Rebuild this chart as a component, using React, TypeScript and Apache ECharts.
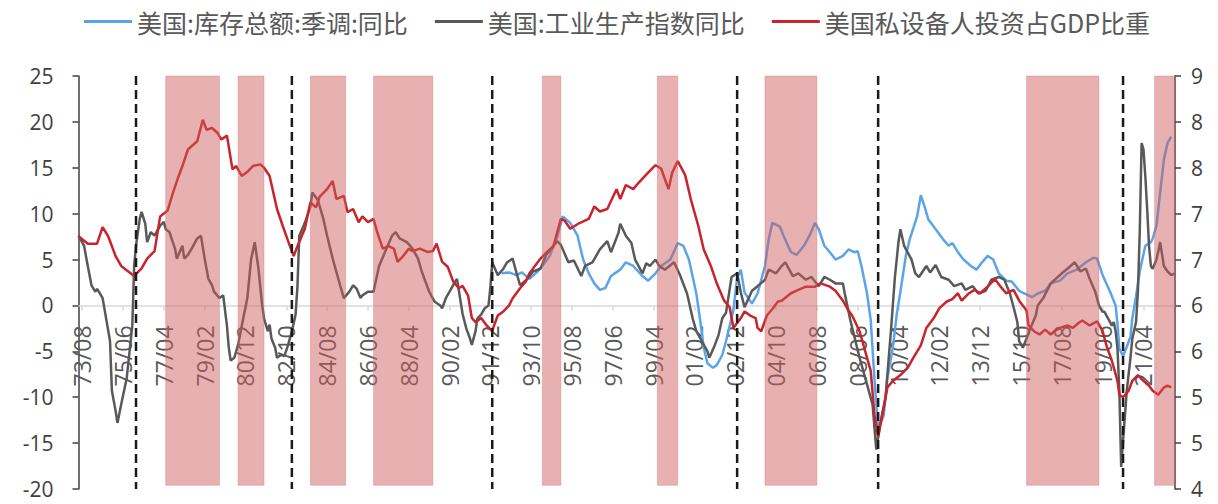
import React, { useEffect, useRef } from "react";
import * as echarts from "echarts";

// Monthly category axis, 1973/06 – 2022/09, labelled "YY/MM"
const months: string[] = (() => {
  const out: string[] = [];
  for (let y = 1973; y <= 2022; y++) {
    for (let m = 1; m <= 12; m++) {
      if (y === 1973 && m < 6) continue;
      if (y === 2022 && m > 9) break;
      out.push(`${String(y % 100).padStart(2, "0")}/${String(m).padStart(2, "0")}`);
    }
  }
  return out;
})();

const seriesNames = ["美国:库存总额:季调:同比", "美国:工业生产指数同比", "美国私设备人投资占GDP比重"];

// 美国:库存总额:季调:同比 (%)
const inventoryYoY: [string, number][] = [
  ["92/06", 3.5], ["92/10", 3.6], ["93/02", 3.3], ["93/05", 3.6], ["93/09", 2.9], ["94/01", 3.6], ["94/04", 4.3],
  ["94/08", 5.4], ["94/12", 7.5], ["95/03", 9.7], ["95/07", 9.0], ["95/11", 7.6], ["96/02", 5.0], ["96/05", 3.5],
  ["96/08", 2.4], ["96/11", 1.7], ["97/02", 1.9], ["97/05", 3.2], ["97/10", 3.9], ["98/01", 4.7], ["98/05", 4.3],
  ["98/10", 3.2], ["99/01", 2.7], ["99/05", 3.5], ["99/08", 4.3], ["00/01", 5.0], ["00/05", 6.8], ["00/08", 6.5],
  ["00/11", 5.0], ["01/03", 1.3], ["01/05", -1.5], ["01/07", -4.6], ["01/09", -6.3], ["01/12", -6.8], ["02/02", -6.5],
  ["02/05", -5.4], ["02/07", -3.9], ["02/11", -0.5], ["03/01", 3.0], ["03/03", 3.9], ["03/05", 1.4], ["03/09", 0.2],
  ["03/12", 1.3], ["04/04", 4.3], ["04/06", 7.2], ["04/08", 9.0], ["04/12", 8.6], ["05/02", 7.6], ["05/06", 5.8],
  ["05/09", 5.5], ["06/01", 6.5], ["06/04", 7.6], ["06/07", 9.0], ["06/09", 8.3], ["06/12", 6.5], ["07/03", 5.8],
  ["07/06", 5.0], ["07/10", 5.4], ["08/01", 6.1], ["08/04", 5.8], ["08/06", 5.9], ["08/08", 4.3], ["08/11", 1.3],
  ["09/01", -1.6], ["09/03", -8.0], ["09/05", -13.5], ["09/08", -12.0], ["09/10", -7.9], ["10/01", -4.5], ["10/03", -1.0],
  ["10/05", 1.5], ["10/08", 5.5], ["10/10", 7.2], ["11/02", 9.7], ["11/04", 12.0], ["11/06", 10.8], ["11/08", 9.4],
  ["11/12", 8.3], ["12/04", 7.2], ["12/07", 6.5], ["12/09", 6.8], ["12/12", 5.8], ["13/03", 5.0], ["13/07", 4.3],
  ["13/10", 3.9], ["14/01", 4.7], ["14/04", 5.4], ["14/07", 5.0], ["14/10", 3.5], ["15/02", 2.7], ["15/05", 2.6],
  ["15/09", 1.6], ["15/12", 1.3], ["16/04", 0.9], ["16/07", 1.3], ["16/11", 1.6], ["17/02", 2.4], ["17/07", 2.7],
  ["17/11", 3.5], ["18/04", 3.9], ["18/09", 4.7], ["19/01", 5.2], ["19/03", 5.1], ["19/06", 3.3], ["19/10", 1.5],
  ["20/01", 0.0], ["20/02", -2.0], ["20/03", -4.7], ["20/05", -5.5], ["20/07", -4.5], ["20/09", -3.4], ["20/10", -1.4],
  ["20/12", 1.0], ["21/02", 3.7], ["21/05", 6.5], ["21/08", 6.9], ["21/09", 7.3], ["21/11", 8.7], ["22/01", 12.3],
  ["22/03", 15.9], ["22/05", 17.7], ["22/07", 18.4],
];

// 美国:工业生产指数同比 (%)
const industrialYoY: [string, number][] = [
  ["73/06", 7.6], ["73/09", 6.5], ["73/11", 4.3], ["74/01", 2.2], ["74/03", 1.5], ["74/04", 1.8], ["74/05", 1.5],
  ["74/07", 0.8], ["74/11", -3.9], ["74/12", -9.3], ["75/01", -10.4], ["75/02", -11.5], ["75/03", -12.8], ["75/05", -10.8],
  ["75/08", -7.9], ["75/11", -2.2], ["75/12", 4.3], ["76/01", 6.5], ["76/03", 9.4], ["76/04", 10.2], ["76/06", 8.9],
  ["76/07", 6.9], ["76/09", 8.0], ["76/11", 7.6], ["77/02", 8.7], ["77/04", 9.1], ["77/05", 8.3], ["77/07", 8.0],
  ["77/10", 6.2], ["77/11", 5.1], ["78/02", 6.5], ["78/03", 5.1], ["78/05", 5.5], ["78/07", 6.2], ["78/10", 7.3],
  ["78/12", 7.6], ["79/02", 5.1], ["79/04", 2.9], ["79/06", 2.2], ["79/07", 1.5], ["79/10", 0.8], ["79/12", 1.1],
  ["80/02", -2.2], ["80/03", -4.6], ["80/04", -6.0], ["80/06", -5.7], ["80/08", -4.3], ["80/10", -2.2], ["81/01", 0.8],
  ["81/03", 5.0], ["81/05", 6.9], ["81/07", 4.0], ["81/09", 0.0], ["81/10", -1.4], ["81/12", -2.8], ["82/01", -2.1],
  ["82/02", -3.6], ["82/04", -4.6], ["82/05", -5.7], ["82/07", -5.4], ["82/09", -5.5], ["82/11", -4.3], ["83/01", -2.8],
  ["83/03", -1.0], ["83/04", 2.0], ["83/05", 7.6], ["83/08", 9.0], ["83/11", 10.8], ["83/12", 12.3], ["84/03", 11.5],
  ["84/06", 9.4], ["84/08", 7.6], ["84/11", 5.1], ["85/03", 2.2], ["85/05", 0.8], ["85/08", 1.5], ["85/10", 2.2],
  ["85/12", 1.8], ["86/02", 0.8], ["86/03", 1.1], ["86/06", 1.5], ["86/09", 1.5], ["86/12", 4.3], ["87/04", 6.2],
  ["87/07", 7.6], ["87/09", 8.0], ["87/11", 7.3], ["88/03", 6.9], ["88/06", 6.2], ["88/09", 5.1], ["88/11", 3.7],
  ["89/03", 1.5], ["89/06", 0.4], ["89/09", 0.0], ["89/10", -0.3], ["89/12", 0.8], ["90/02", 1.5], ["90/05", 2.6],
  ["90/06", 2.9], ["90/09", -0.9], ["90/11", -2.5], ["91/01", -3.6], ["91/02", -4.3], ["91/04", -2.8], ["91/05", -1.4],
  ["91/07", -1.0], ["91/09", -0.3], ["91/11", 0.0], ["91/12", 2.0], ["92/01", 4.7], ["92/04", 3.3], ["92/07", 4.0],
  ["92/09", 4.7], ["92/12", 5.1], ["93/02", 3.6], ["93/04", 2.2], ["93/08", 2.9], ["93/11", 3.7], ["94/03", 4.0],
  ["94/06", 5.5], ["94/10", 6.5], ["94/12", 7.0], ["95/02", 6.6], ["95/06", 4.7], ["95/09", 4.9], ["96/01", 3.2],
  ["96/03", 4.3], ["96/07", 4.7], ["96/11", 6.1], ["97/03", 7.0], ["97/05", 5.8], ["97/09", 7.9], ["97/10", 8.9],
  ["98/01", 7.6], ["98/04", 6.8], ["98/06", 5.0], ["98/10", 3.5], ["98/12", 4.6], ["99/02", 4.3], ["99/05", 5.0],
  ["99/07", 4.3], ["99/10", 3.9], ["00/03", 4.7], ["00/06", 3.4], ["00/10", 1.3], ["01/01", -1.4], ["01/03", -2.8],
  ["01/06", -3.9], ["01/09", -5.0], ["01/10", -5.7], ["02/01", -4.3], ["02/03", -3.2], ["02/05", -1.4], ["02/07", -0.8],
  ["02/10", 3.1], ["03/01", 3.5], ["03/03", 1.4], ["03/05", -0.2], ["03/09", 1.6], ["03/12", 2.1], ["04/04", 2.8],
  ["04/06", 3.9], ["04/10", 3.5], ["05/01", 4.3], ["05/03", 4.7], ["05/07", 3.2], ["05/10", 3.5], ["06/02", 2.8],
  ["06/05", 3.1], ["06/09", 2.1], ["06/12", 3.1], ["07/03", 2.8], ["07/06", 2.4], ["07/10", 2.4], ["07/11", 1.3],
  ["08/02", -1.6], ["08/07", -5.7], ["08/11", -8.6], ["09/02", -10.8], ["09/04", -15.7], ["09/06", -13.0], ["09/09", -10.0],
  ["09/12", -2.5], ["10/02", 3.0], ["10/04", 7.0], ["10/05", 8.3], ["10/07", 6.5], ["10/11", 5.0], ["11/01", 3.5],
  ["11/03", 3.1], ["11/07", 4.3], ["11/09", 3.6], ["11/12", 4.4], ["12/03", 3.1], ["12/07", 2.8], ["12/10", 2.1],
  ["13/02", 2.4], ["13/04", 1.7], ["13/08", 2.1], ["13/11", 1.3], ["14/03", 1.6], ["14/06", 2.8], ["14/10", 3.1],
  ["15/01", 2.8], ["15/04", 1.3], ["15/06", -0.2], ["15/08", -1.8], ["15/09", -3.9], ["15/11", -4.6], ["16/01", -3.6],
  ["16/03", -2.5], ["16/06", -1.1], ["16/07", 0.0], ["16/10", 0.8], ["17/02", 2.4], ["17/08", 3.5], ["17/11", 4.0],
  ["18/03", 4.7], ["18/06", 3.7], ["18/09", 4.0], ["18/11", 2.9], ["19/02", 1.5], ["19/04", 0.0], ["19/06", -0.7],
  ["19/07", -0.7], ["19/11", -2.2], ["19/12", -1.8], ["20/01", -2.8], ["20/02", -4.7], ["20/03", -9.3], ["20/04", -17.6],
  ["20/05", -14.7], ["20/07", -9.3], ["20/09", -5.7], ["20/10", -3.6], ["20/12", -1.8], ["21/01", 1.5], ["21/02", 8.0],
  ["21/03", 17.7], ["21/04", 17.0], ["21/05", 14.1], ["21/06", 10.5], ["21/07", 6.5], ["21/08", 4.3], ["21/09", 4.0],
  ["21/11", 5.0], ["21/12", 5.9], ["22/01", 6.9], ["22/03", 4.3], ["22/05", 3.7], ["22/07", 3.3], ["22/09", 3.5],
];

// 美国私设备人投资占GDP比重 (%, right axis)
const equipmentShare: [string, number][] = [
  ["73/06", 7.06], ["73/11", 6.97], ["74/04", 6.97], ["74/07", 7.17], ["74/10", 7.06], ["75/02", 6.82], ["75/05", 6.7],
  ["75/09", 6.63], ["75/12", 6.58], ["76/04", 6.67], ["76/07", 6.79], ["76/11", 6.88], ["77/02", 7.3], ["77/06", 7.37],
  ["77/09", 7.59], ["77/12", 7.79], ["78/02", 7.91], ["78/05", 8.11], ["78/08", 8.17], ["78/10", 8.21], ["79/01", 8.47],
  ["79/03", 8.35], ["79/06", 8.37], ["79/09", 8.31], ["79/11", 8.23], ["80/02", 8.28], ["80/05", 7.87], ["80/07", 7.91],
  ["80/10", 7.79], ["81/01", 7.84], ["81/04", 7.91], ["81/08", 7.93], ["81/10", 7.89], ["82/01", 7.79], ["82/05", 7.39],
  ["82/08", 7.19], ["82/11", 7.0], ["83/02", 6.82], ["83/04", 6.94], ["83/08", 7.15], ["83/11", 7.47], ["84/02", 7.41],
  ["84/04", 7.54], ["84/08", 7.63], ["84/11", 7.73], ["85/01", 7.51], ["85/05", 7.55], ["85/07", 7.35], ["85/10", 7.39],
  ["86/01", 7.23], ["86/03", 7.3], ["86/06", 7.23], ["86/09", 7.27], ["86/11", 7.11], ["87/02", 6.91], ["87/05", 6.94],
  ["87/08", 6.91], ["87/10", 6.75], ["88/01", 6.82], ["88/04", 6.91], ["88/06", 6.88], ["88/10", 6.91], ["89/02", 6.87],
  ["89/05", 6.88], ["89/07", 6.97], ["89/10", 6.75], ["90/01", 6.69], ["90/04", 6.51], ["90/07", 6.43], ["90/09", 6.46],
  ["90/12", 6.34], ["91/02", 6.07], ["91/04", 6.02], ["91/07", 6.07], ["91/10", 5.98], ["92/01", 5.91], ["92/02", 5.98],
  ["92/04", 6.1], ["92/07", 6.15], ["92/10", 6.22], ["92/12", 6.31], ["93/04", 6.43], ["93/07", 6.51], ["93/09", 6.61],
  ["93/12", 6.7], ["94/03", 6.79], ["94/07", 6.88], ["94/10", 6.94], ["95/02", 7.27], ["95/04", 7.25], ["95/07", 7.15],
  ["95/12", 7.22], ["96/05", 7.27], ["96/08", 7.42], ["96/11", 7.36], ["97/03", 7.39], ["97/08", 7.63], ["97/10", 7.51],
  ["98/01", 7.68], ["98/05", 7.63], ["98/08", 7.71], ["99/01", 7.83], ["99/05", 7.92], ["99/08", 7.88], ["99/12", 7.63],
  ["00/02", 7.83], ["00/05", 7.97], ["00/09", 7.8], ["00/12", 7.51], ["01/04", 7.19], ["01/07", 6.9], ["01/11", 6.69],
  ["02/02", 6.49], ["02/06", 6.28], ["02/09", 6.2], ["02/11", 5.95], ["03/03", 6.07], ["03/05", 6.15], ["03/08", 6.1],
  ["03/11", 6.07], ["03/12", 5.95], ["04/02", 5.91], ["04/05", 6.1], ["04/08", 6.18], ["04/11", 6.27], ["05/01", 6.28],
  ["05/06", 6.37], ["05/10", 6.41], ["06/02", 6.45], ["06/07", 6.45], ["06/10", 6.49], ["07/03", 6.45], ["07/06", 6.4],
  ["07/10", 6.28], ["08/01", 6.16], ["08/03", 6.1], ["08/07", 5.91], ["08/10", 5.67], ["09/01", 5.43], ["09/03", 4.9],
  ["09/05", 4.63], ["09/10", 5.23], ["10/01", 5.31], ["10/05", 5.38], ["10/09", 5.47], ["10/12", 5.59], ["11/04", 5.74],
  ["11/07", 5.95], ["11/11", 6.07], ["12/02", 6.19], ["12/06", 6.27], ["12/09", 6.3], ["12/12", 6.37], ["13/02", 6.28],
  ["13/06", 6.37], ["13/09", 6.41], ["13/12", 6.37], ["14/04", 6.45], ["14/08", 6.54], ["14/11", 6.45], ["15/02", 6.37],
  ["15/06", 6.41], ["15/09", 6.28], ["16/01", 6.16], ["16/02", 5.98], ["16/05", 5.91], ["16/08", 5.87], ["16/11", 5.93],
  ["17/02", 5.87], ["17/04", 5.91], ["17/07", 5.95], ["17/11", 5.98], ["18/02", 5.95], ["18/05", 6.01], ["18/07", 6.04],
  ["18/11", 5.98], ["19/03", 6.03], ["19/06", 5.91], ["19/08", 5.74], ["19/11", 5.55], ["20/02", 5.31], ["20/03", 5.14],
  ["20/05", 5.11], ["20/08", 5.19], ["20/10", 5.31], ["21/01", 5.38], ["21/04", 5.31], ["21/07", 5.25], ["21/09", 5.19],
  ["21/12", 5.14], ["22/03", 5.23], ["22/05", 5.25], ["22/07", 5.23],
];

// Shaded periods (start month, end month)
const shadedSpans: [string, string][] = [
  ["77/05", "79/10"], ["80/08", "81/10"], ["83/11", "85/06"], ["86/09", "89/05"], ["94/04", "95/02"],
  ["99/06", "00/05"], ["04/04", "06/08"], ["16/01", "19/04"], ["21/10", "22/09"],
];

// Dashed vertical markers
const markerMonths: string[] = ["76/01", "83/01", "92/01", "03/01", "09/05", "20/05"];

// Left axis: -20..25 step 5; right axis: 4..9 split into nine equal steps
const leftMin = -20;
const leftMax = 25;
const leftStep = 5;
const shadeBottom = -19.6;
const rightMin = 4;
const rightMax = 9;
const rightTicks = Array.from({ length: 10 }, (_, k) => rightMin + (k * (rightMax - rightMin)) / 9);

const WIDTH = 1218;
const HEIGHT = 504;
const GRID = { left: 78.5, right: 43, top: 76, bottom: 15 };
// The category axis sits on the left axis' zero line
const zeroOffset = -((0 - leftMin) / (leftMax - leftMin)) * (HEIGHT - GRID.top - GRID.bottom);

const FONT = "'Open Sans', 'Noto Sans CJK SC', sans-serif";
const labelEvery = (i: number) => i % 22 === 2;

export default function App() {
  const ref = useRef<HTMLDivElement>(null);

  useEffect(() => {
    if (!ref.current) return;
    const chart = echarts.init(ref.current, null, { renderer: "svg" });
    const spanData = shadedSpans.map(([s, e]) => [months.indexOf(s), months.indexOf(e)]);
    const markerData = markerMonths.map((m) => [months.indexOf(m)]);

    chart.setOption({
      animation: false,
      backgroundColor: "#ffffff",
      textStyle: { fontFamily: FONT },
      legend: {
        data: seriesNames,
        top: 9,
        left: 84,
        padding: 0,
        icon: "rect",
        itemWidth: 48,
        itemHeight: 3,
        itemGap: 27,
        textStyle: { fontSize: 25, color: "#595959", fontFamily: "'Noto Sans CJK SC', sans-serif" },
      },
      grid: { ...GRID, containLabel: false },
      xAxis: {
        type: "category",
        data: months,
        boundaryGap: false,
        position: "bottom",
        offset: zeroOffset,
        axisLine: { onZero: false, lineStyle: { color: "#d9d9d9", width: 1.5 } },
        axisTick: { interval: labelEvery, length: 5, lineStyle: { color: "#d9d9d9", width: 1.5 } },
        axisLabel: {
          interval: labelEvery,
          rotate: 90,
          fontSize: 23,
          color: "#595959",
          margin: 20,
          fontFamily: FONT,
        },
        splitLine: { show: false },
      },
      yAxis: [
        {
          type: "value",
          min: leftMin,
          max: leftMax,
          interval: leftStep,
          position: "left",
          axisLine: { show: true, onZero: false, lineStyle: { color: "#404040", width: 1.5 } },
          axisTick: { show: true, length: 6, lineStyle: { color: "#404040", width: 1.5 } },
          axisLabel: { fontSize: 21, lineHeight: 18, color: "#404040", margin: 25, fontFamily: FONT },
          splitLine: { show: false },
        },
        {
          type: "value",
          min: rightMin,
          max: rightMax,
          position: "right",
          axisLine: { show: true, onZero: false, lineStyle: { color: "#404040", width: 1.5 } },
          axisTick: { show: true, length: 6, customValues: rightTicks, lineStyle: { color: "#404040", width: 1.5 } },
          axisLabel: {
            customValues: rightTicks,
            formatter: (v: number) => String(Math.round(v)),
            fontSize: 21,
            lineHeight: 18,
            color: "#404040",
            margin: 16,
            fontFamily: FONT,
          },
          splitLine: { show: false },
        },
      ],
      series: [
        {
          name: seriesNames[0],
          type: "line",
          data: inventoryYoY,
          yAxisIndex: 0,
          symbol: "none",
          z: 2,
          lineStyle: { color: "#5ba4ea", width: 2.5 },
          itemStyle: { color: "#5ba4ea" },
        },
        {
          name: seriesNames[1],
          type: "line",
          data: industrialYoY,
          yAxisIndex: 0,
          symbol: "none",
          z: 2,
          lineStyle: { color: "#595959", width: 2.5 },
          itemStyle: { color: "#595959" },
        },
        {
          name: seriesNames[2],
          type: "line",
          data: equipmentShare,
          yAxisIndex: 1,
          symbol: "none",
          z: 3,
          lineStyle: { color: "#c9232b", width: 2.5 },
          itemStyle: { color: "#c9232b" },
        },
        {
          name: "shaded",
          type: "custom",
          silent: true,
          z: 5,
          xAxisIndex: 0,
          yAxisIndex: 0,
          data: spanData,
          encode: { x: [0, 1] },
          clip: false,
          renderItem: (_params: any, api: any) => {
            const p0 = api.coord([api.value(0), leftMax]);
            const p1 = api.coord([api.value(1), shadeBottom]);
            return {
              type: "rect",
              shape: { x: p0[0], y: p0[1], width: p1[0] - p0[0], height: p1[1] - p0[1] },
              style: { fill: "rgba(205, 92, 92, 0.48)", stroke: "rgba(215, 110, 110, 0.35)", lineWidth: 1 },
            };
          },
        },
        {
          name: "markers",
          type: "custom",
          silent: true,
          z: 6,
          xAxisIndex: 0,
          yAxisIndex: 0,
          data: markerData,
          encode: { x: 0 },
          renderItem: (params: any, api: any) => {
            const x = api.coord([api.value(0), 0])[0];
            const cs = params.coordSys;
            return {
              type: "line",
              shape: { x1: x, y1: cs.y, x2: x, y2: cs.y + cs.height },
              style: { stroke: "#1a1a1a", lineWidth: 2.5, lineDash: [9, 5] },
            };
          },
        },
      ],
    });
    return () => chart.dispose();
  }, []);

  return <div ref={ref} style={{ position: "fixed", left: 0, top: 0, width: WIDTH, height: HEIGHT }} />;
}
